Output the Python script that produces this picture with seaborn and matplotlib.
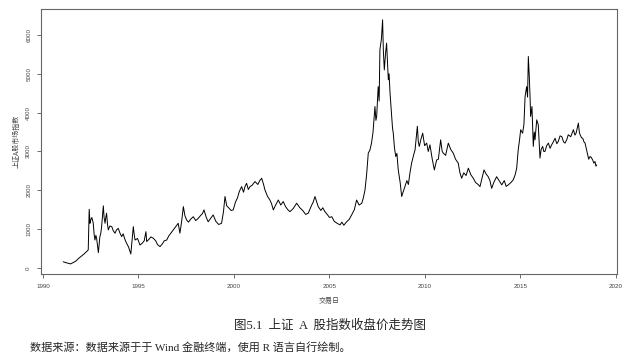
import matplotlib
matplotlib.use("Agg")
import matplotlib.pyplot as plt
import seaborn as sns
import pandas as pd

# 上证A股指数收盘价
years = [1991.06, 1991.25, 1991.45, 1991.7, 1991.9, 1992.15, 1992.37, 1992.42, 1992.46, 1992.5,
         1992.56, 1992.63, 1992.68, 1992.72, 1992.77, 1992.81, 1992.86, 1992.9, 1992.94, 1992.98,
         1993.03, 1993.07, 1993.12, 1993.16, 1993.2, 1993.25, 1993.29, 1993.33, 1993.38, 1993.42,
         1993.5, 1993.6, 1993.68, 1993.77, 1993.85, 1993.94, 1994.03, 1994.12, 1994.2, 1994.3,
         1994.38, 1994.48, 1994.6, 1994.66, 1994.73, 1994.78, 1994.82, 1994.95, 1995.08, 1995.2,
         1995.3, 1995.39, 1995.43, 1995.55, 1995.65, 1995.78, 1995.9, 1996.0, 1996.13, 1996.25,
         1996.35, 1996.48, 1996.58, 1996.7, 1996.82, 1996.93, 1997.0, 1997.08, 1997.17, 1997.26,
         1997.35, 1997.43, 1997.52, 1997.62, 1997.72, 1997.87, 1998.0, 1998.13, 1998.25, 1998.35,
         1998.43, 1998.55, 1998.65, 1998.78, 1998.91, 1999.05, 1999.2, 1999.35, 1999.45, 1999.53,
         1999.62, 1999.72, 1999.85, 1999.96, 2000.08, 2000.18, 2000.28, 2000.4, 2000.5, 2000.58,
         2000.66, 2000.75, 2000.84, 2000.95, 2001.1, 2001.25, 2001.35, 2001.45, 2001.55, 2001.62,
         2001.75, 2001.88, 2001.97, 2002.06, 2002.18, 2002.32, 2002.45, 2002.58, 2002.7, 2002.82,
         2002.93, 2003.1, 2003.28, 2003.45, 2003.6, 2003.75, 2003.89, 2004.05, 2004.15, 2004.24,
         2004.32, 2004.41, 2004.55, 2004.65, 2004.76, 2004.88, 2005.0, 2005.12, 2005.25, 2005.4,
         2005.55, 2005.65, 2005.75, 2005.9, 2006.03, 2006.16, 2006.3, 2006.42, 2006.55, 2006.69,
         2006.77, 2006.86, 2006.95, 2007.03, 2007.12, 2007.2, 2007.28, 2007.38, 2007.43, 2007.47,
         2007.55, 2007.6, 2007.64, 2007.72, 2007.78, 2007.82, 2007.87, 2007.93, 2007.99, 2008.08,
         2008.12, 2008.17, 2008.26, 2008.3, 2008.34, 2008.4, 2008.47, 2008.53, 2008.6, 2008.7,
         2008.78, 2008.85, 2008.95, 2009.05, 2009.13, 2009.21, 2009.3, 2009.4, 2009.48, 2009.55,
         2009.6, 2009.65, 2009.7, 2009.78, 2009.88, 2009.98, 2010.09, 2010.17, 2010.26, 2010.38,
         2010.49, 2010.55, 2010.61, 2010.7, 2010.82, 2010.9, 2010.96, 2011.08, 2011.22, 2011.35,
         2011.48, 2011.6, 2011.74, 2011.83, 2011.92, 2012.03, 2012.15, 2012.27, 2012.4, 2012.53,
         2012.65, 2012.78, 2012.88, 2012.98, 2013.09, 2013.2, 2013.31, 2013.4, 2013.49, 2013.6,
         2013.75, 2013.88, 2014.02, 2014.15, 2014.25, 2014.36, 2014.5, 2014.62, 2014.72, 2014.8,
         2014.88, 2014.95, 2015.01, 2015.11, 2015.18, 2015.24, 2015.32, 2015.37, 2015.41, 2015.46,
         2015.5, 2015.53, 2015.6, 2015.67, 2015.72, 2015.76, 2015.85, 2015.93, 2016.02, 2016.08,
         2016.16, 2016.22, 2016.28, 2016.37, 2016.46, 2016.55, 2016.63, 2016.72, 2016.81, 2016.9,
         2016.98, 2017.07, 2017.16, 2017.25, 2017.33, 2017.42, 2017.5, 2017.63, 2017.77, 2017.85,
         2017.91, 2017.97, 2018.03, 2018.08, 2018.12, 2018.2, 2018.26, 2018.32, 2018.38, 2018.44,
         2018.5, 2018.57, 2018.64, 2018.7, 2018.78, 2018.84, 2018.9, 2018.95, 2018.99]
close = [160, 130, 105, 170, 260, 360, 464, 1512, 1150, 1237,
         1300, 1160, 860, 720, 840, 760, 560, 395, 600, 807,
         900, 1065, 1380, 1600, 1300, 1150, 1300, 1410, 1120, 980,
         1080, 1065, 960, 895, 980, 1020, 900, 807, 880, 720,
         636, 540, 360, 700, 1065, 850, 720, 760, 590, 640,
         700, 935, 680, 740, 800, 765, 700, 600, 550, 620,
         700, 720, 820, 900, 980, 1050, 1100, 1150, 895, 1200,
         1580, 1350, 1237, 1180, 1250, 1320, 1220, 1280, 1350, 1400,
         1495, 1300, 1190, 1280, 1366, 1200, 1120, 1150, 1450, 1840,
         1600, 1550, 1480, 1495, 1700, 1800, 1970, 2095, 1950, 2100,
         2180, 2020, 2095, 2130, 2225, 2150, 2250, 2310, 2150, 2010,
         1850, 1750, 1650, 1495, 1620, 1750, 1620, 1710, 1580, 1500,
         1450, 1530, 1667, 1550, 1480, 1380, 1410, 1600, 1700, 1840,
         1720, 1580, 1480, 1550, 1450, 1380, 1300, 1320, 1200, 1150,
         1110, 1180, 1100, 1190, 1250, 1366, 1500, 1750, 1620, 1667,
         1800, 2010, 2440, 2956, 3040, 3215, 3500, 4157, 3800, 3900,
         4670, 4300, 5620, 5900, 6390, 5600, 5100, 5500, 5790, 4845,
         5000, 4500, 3900, 3600, 3470, 3100, 2870, 2950, 2525, 2200,
         1840, 1950, 2095, 2250, 2150, 2440, 2700, 2900, 3040, 3400,
         3650, 3250, 3130, 3300, 3470, 3150, 3215, 3000, 3170, 2800,
         2525, 2650, 2780, 2800, 3300, 3000, 2956, 2900, 3215, 3050,
         2956, 2800, 2700, 2450, 2310, 2450, 2380, 2570, 2400, 2310,
         2200, 2150, 2095, 2300, 2525, 2420, 2350, 2250, 2050, 2200,
         2350, 2250, 2140, 2250, 2100, 2140, 2200, 2270, 2400, 2570,
         3040, 3300, 3560, 3470, 3700, 4415, 4670, 4400, 5445, 4930,
         4400, 3900, 4157, 3130, 3500, 3300, 3815, 3685, 2830, 3050,
         3130, 3000, 3000, 3150, 3215, 3080, 3170, 3250, 3340, 3200,
         3260, 3400, 3385, 3250, 3215, 3300, 3430, 3380, 3560, 3420,
         3470, 3600, 3730, 3500, 3430, 3350, 3340, 3250, 3215, 3080,
         2956, 2800, 2870, 2850, 2780, 2700, 2740, 2620, 2655]

xticks = [1990, 1995, 2000, 2005, 2010, 2015, 2020]
yticks = [0, 1000, 2000, 3000, 4000, 5000, 6000]

df = pd.DataFrame({"year": years, "close": close})

sns.set_style("white")
plt.rcParams['font.family'] = ['Liberation Serif', 'Noto Sans CJK SC', 'DejaVu Sans']

fig = plt.figure(figsize=(6.4, 3.57), dpi=100)
ax = fig.add_axes([0.064, 0.2325, 0.9, 0.7425])

sns.lineplot(data=df, x="year", y="close", color="black", linewidth=0.7, ax=ax)

ax.set_xlim(1989.895, 2020.05)
ax.set_ylim(-155, 6670)
ax.set_xticks(xticks)
ax.set_xticklabels([str(t) for t in xticks], fontsize=4.5, family=['Liberation Sans'], color='#444444')
ax.set_yticks(yticks)
ax.set_yticklabels([str(t) for t in yticks], fontsize=4.5, family=['Liberation Sans'],
                   color='#444444', rotation=90, va='center')
ax.tick_params(axis='both', length=3, width=0.6, color='#555555', pad=4, direction='out')
ax.tick_params(left=True, bottom=True)
for s in ax.spines.values():
    s.set_color('#666666')
    s.set_linewidth(0.8)

ax.set_xlabel("交易日", fontsize=5, family=['Noto Sans CJK SC'], color='#444444', labelpad=6)
ax.set_ylabel("上证A股市场指数", fontsize=5, family=['Noto Sans CJK SC'], color='#444444', labelpad=4)

fig.text(0.515, 0.087, "图5.1  上证  A  股指数收盘价走势图", ha='center', va='center', fontsize=9)
fig.text(0.047, 0.013, "数据来源：数据来源于于 Wind 金融终端，使用 R 语言自行绘制。", ha='left',
         va='bottom', fontsize=8)

fig.savefig("out.png", dpi=100)
